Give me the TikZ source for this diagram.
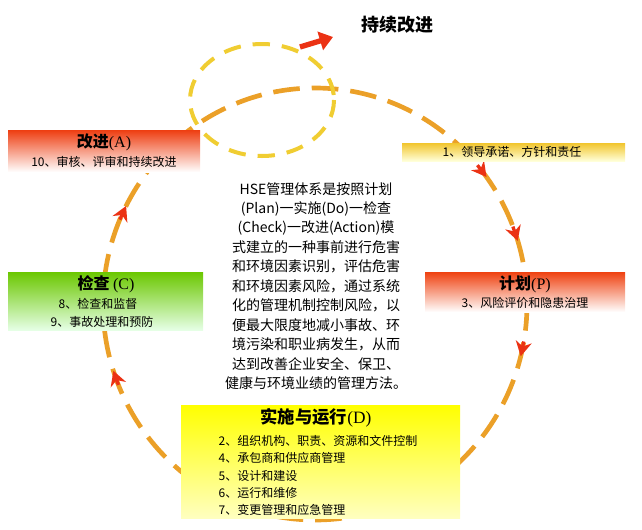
\documentclass[tikz,border=0pt]{standalone}
\usepackage{fontspec}
\setmainfont{Noto Sans CJK SC}
\newfontfamily\latinserif{Liberation Serif}
\usepackage{tikz}
\usetikzlibrary{positioning}
\usetikzlibrary{arrows.meta}
\definecolor{loop_orange}{RGB}{235,160,40}
\definecolor{loop_yellow}{RGB}{240,205,50}
\definecolor{loop_red}{RGB}{235,50,20}
\tikzstyle{phase_title} = [font = \fontsize{12}{14}\selectfont\bfseries]
\tikzstyle{phase_item} = [font = \fontsize{9}{14}\selectfont, align = left]
\tikzstyle{loop_arrow} = [loop_red, line width = 2.5, -{Stealth[length = 11, width = 12]}]
\begin{document}
\begin{tikzpicture}[x = 0.75pt, y = -0.75pt]
    \useasboundingbox (0, 0) rectangle (642, 529);
    % big loop
    \draw [loop_orange, line width = 3.5, dash pattern = on 20 off 9]
        (315, 304) ellipse [x radius = 212, y radius = 216];
    \foreach \ang in {-36, -17, 14, 162, 207} {
        \draw [loop_arrow] ({315 + 212*cos(\ang - 4)}, {304 + 216*sin(\ang - 4)})
            -- ({315 + 212*cos(\ang)}, {304 + 216*sin(\ang)});
    }
    % small loop
    \draw [loop_yellow, line width = 3, dash pattern = on 13 off 9]
        (262, 100) ellipse [x radius = 72, y radius = 56];
    \draw [loop_red, line width = 4, -{Triangle[length = 10, width = 14]}] (300, 47) -- (333, 37);
    \node [phase_title, font = \fontsize{13.5}{15}\selectfont\bfseries] (cont) at (397, 25) {持续改进};
    % boxes
    \shade [top color = loop_red!85!orange, bottom color = white] (8, 130) rectangle (200, 172);
    \node [phase_title] (act) at (104, 142) {改进\latinserif\mdseries(A)};
    \node [phase_item] (act_i) at (104, 162) {10、审核、评审和持续改进};

    \shade [top color = loop_yellow!90!orange, bottom color = yellow!15] (402, 143) rectangle (625, 161);
    \node [phase_item] (plan_l) at (512, 152) {1、领导承诺、方针和责任};

    \shade [top color = loop_red!80!orange, bottom color = white] (425, 272) rectangle (625, 312);
    \node [phase_title] (plan) at (525, 284) {计划\latinserif\mdseries(P)};
    \node [phase_item] (plan_i) at (525, 303) {3、风险评价和隐患治理};

    \shade [top color = green!45!olive!80!yellow, bottom color = green!10!white] (8, 272) rectangle (203, 330);
    \node [phase_title] (chk) at (106, 284) {检查 \latinserif\mdseries(C)};
    \node [phase_item] (chk_i) at (106, 313) {8、检查和监督\\\hspace*{-6pt}9、事故处理和预防};

    \shade [top color = yellow, bottom color = yellow!25] (181, 405) rectangle (460, 518);
    \node [phase_title, font = \fontsize{13}{15}\selectfont\bfseries] (do) at (316, 418) {实施与运行\latinserif\mdseries(D)};
    \node [phase_item, anchor = north west, font = \fontsize{9}{12.8}\selectfont] (do_i) at (214, 431)
        {2、组织机构、职责、资源和文件控制\\4、承包商和供应商管理\\5、设计和建设\\6、运行和维修\\7、变更管理和应急管理};
    % centre text
    \node [align = center, font = \fontsize{10.5}{14.6}\selectfont] (desc) at (316, 286)
        {HSE管理体系是按照计划\\(Plan)一实施(Do)一检查\\(Check)一改进(Action)模\\式建立的一种事前进行危害\\和环境因素识别，评估危害\\和环境因素风险，通过系统\\化的管理机制控制风险，以\\便最大限度地减小事故、环\\境污染和职业病发生，从而\\达到改善企业安全、保卫、\\健康与环境业绩的管理方法。};
\end{tikzpicture}
\end{document}
